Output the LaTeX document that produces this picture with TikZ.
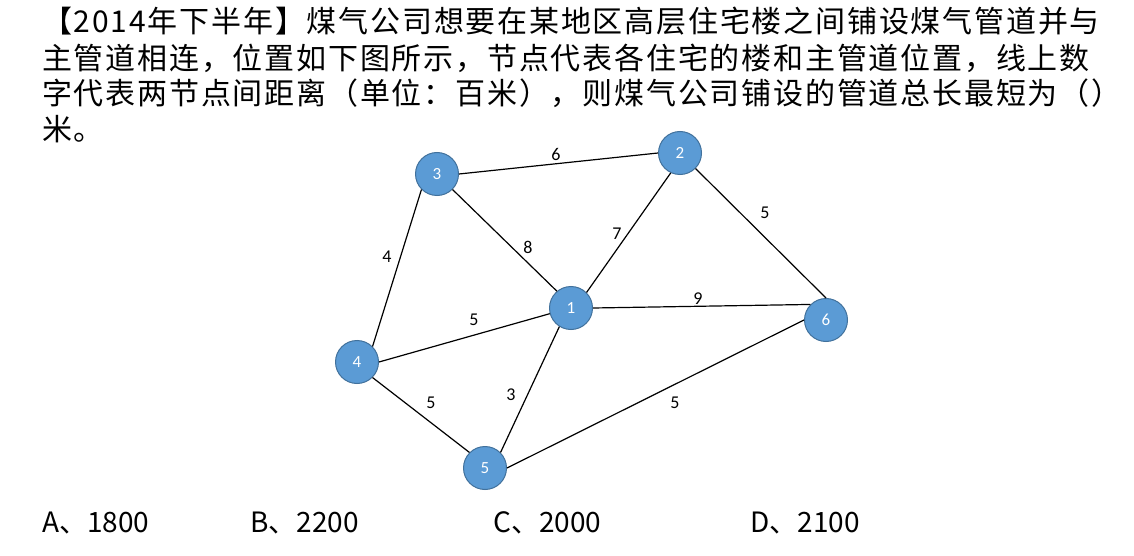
\documentclass[tikz,border=0pt]{standalone}
\usepackage{fontspec}
\setmainfont{Carlito}
\newfontfamily\cjk[LetterSpace=6]{Noto Sans CJK SC}
\newfontfamily\cjkopt{Noto Sans CJK SC}
\definecolor{nodefill}{RGB}{91,155,213}
\definecolor{nodeline}{RGB}{65,113,156}
\begin{document}
\begin{tikzpicture}[x=1pt,y=-1pt,
  vtx/.style={circle,fill=nodefill,draw=nodeline,line width=1pt,minimum size=43pt,inner sep=0pt,text=white,font=\fontsize{17}{17}\selectfont},
  wt/.style={font=\fontsize{18}{18}\selectfont,inner sep=0pt},
  edge/.style={line width=1.2pt,black},
  qline/.style={anchor=base west,inner sep=0pt,font=\cjk\fontsize{30}{30}\selectfont},
  opt/.style={anchor=base west,inner sep=0pt,font=\cjkopt\fontsize{28}{28}\selectfont}]
\path[use as bounding box,fill=white] (0,0) rectangle (1134,556);
% question text
\node[qline] (q1) at (42,33) {【2014年下半年】煤气公司想要在某地区高层住宅楼之间铺设煤气管道并与};
\node[qline] (q2) at (42,70) {主管道相连，位置如下图所示，节点代表各住宅的楼和主管道位置，线上数};
\node[qline] (q3) at (42,105) {字代表两节点间距离（单位：百米），则煤气公司铺设的管道总长最短为（）};
\node[qline] (q4) at (42,141) {米。};
% nodes
\node[vtx] (n1) at (571,308) {1};
\node[vtx] (n2) at (680,153) {2};
\node[vtx] (n3) at (437,174) {3};
\node[vtx] (n4) at (357,362) {4};
\node[vtx] (n5) at (485,468) {5};
\node[vtx] (n6) at (826,320) {6};
% edges
\draw[edge] (n3.east) -- (n2.west);
\draw[edge] (n3.south east) -- (n1.130);
\draw[edge] (n3.south west) -- (n4.north east);
\draw[edge] (n2.245) -- (n1.north east);
\draw[edge] (n2.south east) -- (n6.north);
\draw[edge] (n1.east) -- (n6.north west);
\draw[edge] (n1.195) -- (n4.east);
\draw[edge] (n1.238) -- (n5.north east);
\draw[edge] (n4.south east) -- (n5.north west);
\draw[edge] (n5.east) -- (n6.west);
% weights
\node[wt] (w32) at (556,154) {6};
\node[wt] (w26) at (765,213) {5};
\node[wt] (w31) at (528,247) {8};
\node[wt] (w21) at (617,234) {7};
\node[wt] (w34) at (387,257) {4};
\node[wt] (w16) at (698,299) {9};
\node[wt] (w14) at (474,320) {5};
\node[wt] (w45) at (431,403) {5};
\node[wt] (w15) at (511,395) {3};
\node[wt] (w56) at (675,403) {5};
% options
\node[opt] (oa) at (42,532) {A、1800};
\node[opt] (ob) at (250,532) {B、2200};
\node[opt] (oc) at (493,532) {C、2000};
\node[opt] (od) at (750,532) {D、2100};
\end{tikzpicture}
\end{document}
